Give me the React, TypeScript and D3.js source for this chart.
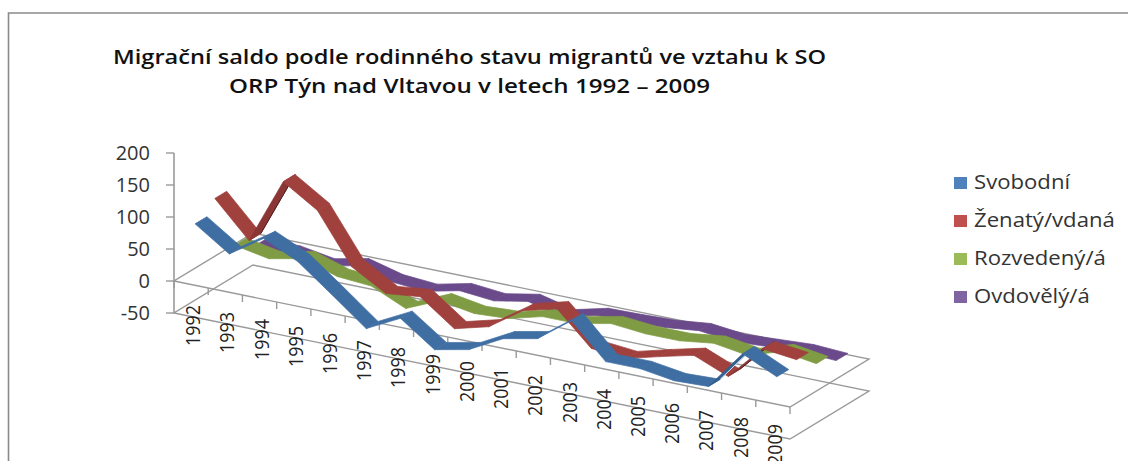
import React from "react";
import * as d3 from "d3";

const W = 1128, H = 461;
const years = ["1992","1993","1994","1995","1996","1997","1998","1999","2000","2001","2002","2003","2004","2005","2006","2007","2008","2009"];
const seriesNames = ["Svobodní", "Ženatý/vdaná", "Rozvedený/á", "Ovdovělý/á"];
const svobodni = [91,55,90,65,24,-18,9,-29,-18,10,21,60,7,7,-1,1,63,38];
const zenaty = [112,57,160,126,49,18,24,-15,-1,35,49,-2,-7,7,20,-2,52,46];
const rozvedeny = [20,10,21,4,0,-24,-1,-10,-7,7,7,18,13,13,20,12,29,21];
const ovdovely = [0,0,-9,2,-12,-16,-4,-9,1,-12,1,2,4,10,4,7,10,7];
const allSeries = [svobodni, zenaty, rozvedeny, ovdovely];
const legendColors = ["#4f81bd", "#c0504d", "#9bbb59", "#8064a2"];
const topColors = ["#3f6ea3", "#a0413e", "#7f9c44", "#6a4a8a"];
const underColors = ["#33608f", "#8a3634", "#6a8638", "#5a3f78"];
const edgeColors = ["#dfe8f2", "#4a1f1d", "#5f7a30", "#4f3570"];
const valueTicks = [-50, 0, 50, 100, 150, 200];
const titleLines = ["Migrační saldo podle rodinného stavu migrantů ve vztahu k SO", "ORP Týn nad Vltavou v letech 1992 – 2009"];

// affine pseudo-3D projection: category a 0..1, depth b 0..1, value v
const ax = d3.scaleLinear().domain([0, 1]).range([174, 790]);
const ay = d3.scaleLinear().domain([0, 1]).range([0, 126]);
const bx = d3.scaleLinear().domain([0, 1]).range([0, 79]);
const by = d3.scaleLinear().domain([0, 1]).range([0, -48]);
const vy = d3.scaleLinear().domain([0, 200]).range([281, 153]);
const P = (a: number, b: number, v: number): [number, number] => [ax(a) + bx(b), vy(v) + ay(a) + by(b)];
const catA = d3.scaleBand<number>().domain(d3.range(years.length)).range([0, 1]);
const depthB = d3.scaleBand<number>().domain(d3.range(4)).range([0, 1]);
const GRID = "#9a9a9a";
const HALF = 0.075;

const FONT = "'Open Sans', sans-serif";
const line = d3.line();

export default function App() {
  const planes = [0, -50].map((v) => line([P(0,0,v), P(1,0,v), P(1,1,v), P(0,1,v)]) + "Z");
  const ribbons = [3, 2, 1, 0].map((s) => {
    const vals = allSeries[s];
    const b = depthB(s)! + depthB.bandwidth() / 2;
    const pt = (i: number, d: number) => P(catA(i)! + catA.bandwidth() / 2, b + d, vals[i]);
    return d3.range(vals.length - 1).map((i) => {
      const p0 = pt(i, -HALF), p1 = pt(i + 1, -HALF), p2 = pt(i + 1, HALF), p3 = pt(i, HALF);
      const cross = (p1[0]-p0[0])*(p3[1]-p0[1]) - (p1[1]-p0[1])*(p3[0]-p0[0]);
      const under = cross >= 0;
      const col = under ? underColors[s] : topColors[s];
      return (
        <g key={s + "-" + i}>
          <path d={line([p0,p1,p2,p3]) + "Z"} fill={col} stroke={col} strokeWidth={0.7} strokeLinejoin="round" />
          {under && <path d={line([p3,p2])!} fill="none" stroke={edgeColors[s]} strokeWidth={1} />}
        </g>
      );
    });
  });
  return (
    <svg width={W} height={H} style={{ position: "absolute", left: 0, top: 0, background: "#fff" }}>
      <path d={`M8.5,${H}V13H${W}`} fill="none" stroke="#8a8a8a" strokeWidth={1.6} />
      {titleLines.map((t, i) => (
        <text key={t} x={469.5} y={[64, 93][i]} textAnchor="middle" fontFamily={FONT} fontWeight={600} fontSize={20.5} fill="#111"
          textLength={[713, 481][i]} lengthAdjust="spacingAndGlyphs">{t}</text>
      ))}
      {planes.map((d, i) => <path key={i} d={d} fill="none" stroke={GRID} strokeWidth={1.4} />)}
      <line x1={174} x2={174} y1={vy(200)} y2={vy(-50)} stroke={GRID} strokeWidth={1.6} />
      {valueTicks.map((v) => (
        <g key={v}>
          <line x1={166} x2={174} y1={vy(v)} y2={vy(v)} stroke={GRID} strokeWidth={1.4} />
          <text x={150} y={vy(v) + 7} textAnchor="end" fontFamily={FONT} fontSize={20} fill="#333">{v}</text>
        </g>
      ))}
      {d3.range(years.length + 1).map((i) => {
        const [x, y] = P(i / years.length, 0, 0);
        return <line key={i} x1={x} x2={x} y1={y} y2={y + 7} stroke={GRID} strokeWidth={1.4} />;
      })}
      {years.map((y, i) => {
        const [px, py] = P(catA(i)! + catA.bandwidth() / 2, 0, 0);
        return (
          <text key={y} transform={`translate(${px + 9},${py + 20.5}) rotate(-90)`} textAnchor="end" fontFamily={FONT} fontSize={20} fill="#222"
            textLength={41} lengthAdjust="spacingAndGlyphs">{y}</text>
        );
      })}
      {ribbons}
      {seriesNames.map((n, i) => {
        const y = [183, 221, 259, 297][i];
        return (
          <g key={n}>
            <rect x={954} y={y - 6} width={13} height={12} fill={legendColors[i]} />
            <text transform={`translate(974,${y + 6}) scale(1.08,1)`} fontFamily={FONT} fontSize={20.5} fill="#333">{n}</text>
          </g>
        );
      })}
    </svg>
  );
}
